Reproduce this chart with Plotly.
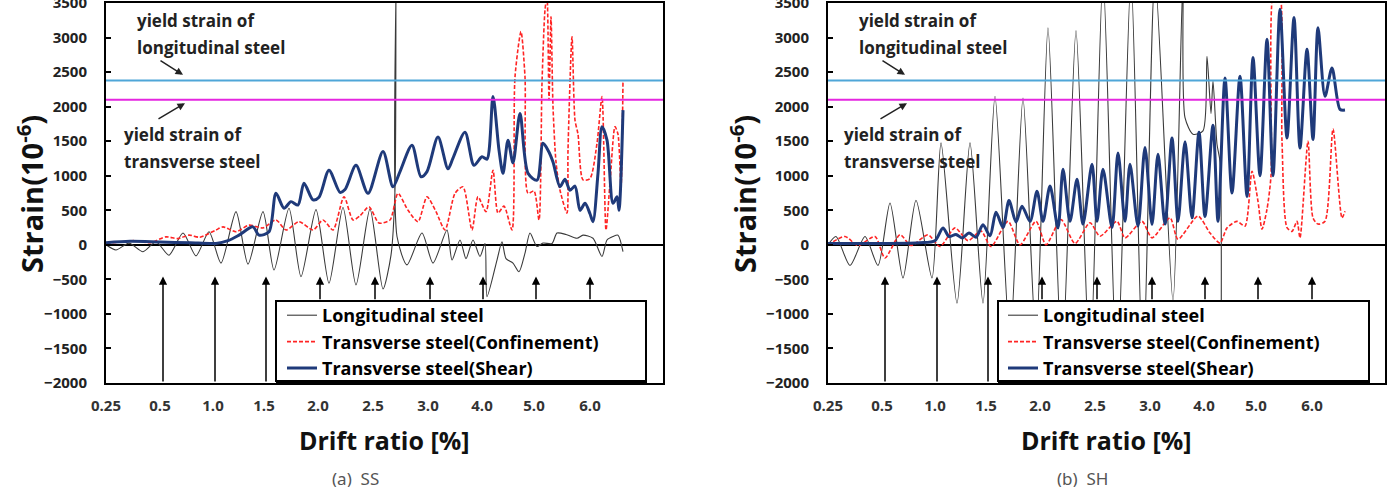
import plotly.graph_objects as go

# ---------------- data (x = loading step, y = strain in 1e-6) ----------------
tick_steps = [0, 54, 107, 158, 212, 267, 322, 376, 428, 484]
tick_labels = ["0.25", "0.5", "1.0", "1.5", "2.0", "2.5", "3.0", "4.0", "5.0", "6.0"]
arrow_steps = [57, 109, 160, 214, 269, 324, 377, 430, 484]

yield_long = 2380
yield_trans = 2100

# (a) SS
ss_long_x = [0, 10, 23, 37, 50, 63, 77, 90, 103, 115, 130, 142, 157, 168, 183, 195, 210, 223, 237, 250,
             264, 277, 285, 289, 290, 291, 301, 316, 327, 341, 346, 354, 360, 367, 374, 379, 381, 391,
             396, 400, 407, 413, 419, 424, 431, 437, 446, 451, 460, 471, 477, 487, 496, 501, 507, 512, 517]
ss_long_y = [0, -75, 25, -100, 45, -150, 170, -160, 190, -265, 480, -280, 480, -365, 530, -460, 510, -555,
             540, -580, 520, -640, -150, 800, 3700, 120, -290, 170, -265, 215, -220, 70, -200, 70, -170, 20,
             -750, -220, 45, -200, -265, -390, -120, 170, -25, 25, 20, 170, 150, 95, 140, 95, -170, 70, 120,
             140, -100]

ss_conf_x = [0, 14, 29, 44, 60, 72, 83, 94, 110, 117, 130, 143, 157, 170, 180, 193, 207, 217, 227, 238,
             247, 254, 263, 273, 284, 292, 302, 312, 321, 330, 339, 349, 357, 366, 372, 380, 387, 392, 398,
             406, 409, 415, 419, 422, 428, 433, 436, 439, 441, 443, 445, 447, 450, 454, 461, 462, 466, 469,
             472, 477, 484, 491, 496, 500, 504, 509, 512, 515, 517]
ss_conf_y = [20, 40, 60, 30, 115, 90, 140, 110, 215, 260, 190, 285, 245, 360, 215, 335, 215, 360, 215, 695,
             360, 420, 550, 315, 360, 745, 500, 335, 695, 480, 215, 745, 840, 215, 695, 480, 1080, 460, 560,
             215, 2430, 3085, 2430, 745, 780, 360, 2340, 3400, 3600, 2100, 3300, 2000, 1200, 790, 460, 1370,
             3010, 1805, 1600, 940, 960, 1470, 2145, 215, 900, 1710, 1600, 840, 2385]

ss_shear_x = [0, 24, 54, 84, 110, 122, 133, 147, 153, 163, 170, 178, 185, 192, 198, 207, 213, 223, 234,
              239, 250, 262, 277, 287, 294, 306, 315, 321, 332, 342, 347, 359, 368, 376, 381, 387, 393, 397,
              402, 407, 414, 422, 431, 437, 442, 447, 454, 459, 464, 469, 474, 479, 484, 487, 492, 496, 501,
              507, 511, 513, 517]
ss_shear_y = [30, 50, 40, 30, 20, 60, 140, 260, 140, 190, 745, 530, 625, 575, 890, 650, 690, 1080, 760, 800,
              1150, 745, 1350, 840, 1060, 1440, 985, 1060, 1560, 1100, 1255, 1630, 1150, 1275, 1240, 2145,
              1370, 1035, 1515, 1185, 1900, 1035, 935, 1470, 1370, 1200, 840, 950, 790, 850, 500, 600, 450,
              335, 1035, 1710, 1515, 600, 695, 500, 1950]

# (b) SH
sh_long_x = [0, 8, 22, 37, 50, 62, 75, 88, 104, 113, 129, 142, 155, 167, 182, 195, 208, 220, 234, 248, 262,
             275, 289, 303, 315, 327, 345, 355, 357, 365, 375, 379, 383, 385, 389, 392, 393]
sh_long_y = [0, 120, -300, 120, -300, 605, -480, 645, -480, 1475, -845, 1475, -845, 2150, -1400, 2125, -1400,
             3140, -1700, 3100, -1800, 3900, -1900, 3900, -1900, 3900, -820, 3900, 1840, 1600, 1650, 2730,
             1900, 2370, 1455, 1200, -2000]

sh_conf_x = [0, 17, 30, 47, 57, 72, 83, 100, 112, 127, 140, 153, 163, 180, 192, 208, 218, 233, 247, 262, 272,
             289, 297, 314, 324, 342, 350, 370, 382, 392, 399, 409, 417, 424, 430, 434, 439, 443, 446, 451,
             454, 459, 464, 469, 472, 480, 485, 490, 497, 505, 514, 517]
sh_conf_y = [0, 120, -10, 120, -190, 145, -10, 145, -25, 245, 60, 200, -25, 340, 0, 340, 0, 365, 20, 320, 125,
             340, 100, 340, 100, 390, 80, 415, 170, 25, 245, 340, 270, 1065, 630, 225, 515, 1000, 3700, 3700,
             1500, 250, 195, 340, 100, 1500, 390, 300, 340, 1675, 390, 485]

sh_shear_x = [0, 52, 92, 107, 115, 121, 128, 134, 141, 148, 155, 162, 168, 175, 181, 188, 194, 202, 209, 215,
              222, 230, 235, 242, 249, 255, 264, 269, 275, 284, 290, 297, 302, 310, 317, 324, 330, 337, 344,
              350, 357, 364, 371, 377, 385, 390, 397, 404, 412, 419, 425, 432, 439, 445, 452, 459, 466, 472,
              479, 485, 490, 497, 504, 512, 517]
sh_shear_y = [20, 20, 30, 60, 245, 120, 150, 100, 170, 110, 290, 130, 470, 250, 640, 330, 560, 340, 775, 340,
              850, 245, 1095, 340, 950, 300, 1165, 340, 1095, 250, 1330, 340, 1165, 270, 1410, 295, 1310, 300,
              1545, 340, 1490, 390, 1630, 410, 1730, 340, 2415, 750, 2440, 700, 2710, 1000, 2975, 1000, 3410,
              1545, 3290, 1400, 2830, 1525, 3140, 2150, 2560, 1960, 1950]

# ---------------- styling ----------------
FONT = "Open Sans"
C_LONG = "#3a3a3a"
C_CONF = "#ff2424"
C_SHEAR = "#1f3a7a"
C_YL = "#4fa6d8"
C_YT = "#e526e0"
W, H = 1390, 487


def px(x):
    return x / W


def py(y):
    return 1 - y / H


fig = go.Figure()

panels = [
    dict(xa="x", ya="y", leg="legend", long=(ss_long_x, ss_long_y), conf=(ss_conf_x, ss_conf_y),
         shear=(ss_shear_x, ss_shear_y)),
    dict(xa="x2", ya="y2", leg="legend2", long=(sh_long_x, sh_long_y), conf=(sh_conf_x, sh_conf_y),
         shear=(sh_shear_x, sh_shear_y)),
]

for p in panels:
    fig.add_trace(go.Scatter(x=p["long"][0], y=p["long"][1], mode="lines", name="Longitudinal steel",
                             line=dict(color=C_LONG, width=1.1, shape="spline", smoothing=0.7),
                             xaxis=p["xa"], yaxis=p["ya"], legend=p["leg"]))
    fig.add_trace(go.Scatter(x=p["conf"][0], y=p["conf"][1], mode="lines",
                             name="Transverse steel(Confinement)",
                             line=dict(color=C_CONF, width=1.6, dash="4px,2px", shape="spline",
                                       smoothing=0.7),
                             xaxis=p["xa"], yaxis=p["ya"], legend=p["leg"]))
    fig.add_trace(go.Scatter(x=p["shear"][0], y=p["shear"][1], mode="lines", name="Transverse steel(Shear)",
                             line=dict(color=C_SHEAR, width=3, shape="spline", smoothing=0.8),
                             xaxis=p["xa"], yaxis=p["ya"], legend=p["leg"]))

xdoms = [[106 / W, 663 / W], [828 / W, 1385 / W]]
ydom = [1 - 383 / H, 1 - 3 / H]

axis_common = dict(showline=True, mirror=True, linecolor="black", linewidth=2, showgrid=False,
                   automargin=False, ticklabeloverflow="allow")
layout = dict(template="none", width=W, height=H, margin=dict(l=0, r=0, t=0, b=0, pad=0),
              paper_bgcolor="white", plot_bgcolor="white", showlegend=True)
for i, suffix in enumerate(["", "2"]):
    layout["xaxis" + suffix] = dict(domain=xdoms[i], range=[0, 557], tickmode="array", tickvals=tick_steps,
                                    ticktext=tick_labels, ticks="", zeroline=False,
                                    anchor="y" + suffix, ticklabelstandoff=8,
                                    tickfont=dict(family=FONT, size=15, color="#333", weight="bold"),
                                    **axis_common)
    layout["yaxis" + suffix] = dict(domain=ydom, range=[-2000, 3500], tickmode="array",
                                    tickvals=list(range(-2000, 3501, 500)), ticks="inside", ticklen=5,
                                    tickwidth=1.5, tickcolor="black", zeroline=True, zerolinecolor="black",
                                    zerolinewidth=2, anchor="x" + suffix, ticklabelstandoff=14,
                                    tickfont=dict(family=FONT, size=15, color="#222", weight="bold"),
                                    **axis_common)
fig.update_layout(**layout)

# legend boxes (frame drawn as shapes so its size matches the original figure)
leg_common = dict(bgcolor="rgba(0,0,0,0)", borderwidth=0, xanchor="left", yanchor="top",
                  font=dict(family=FONT, size=18, color="black", weight="bold"), tracegroupgap=0,
                  itemwidth=30)
fig.update_layout(legend=dict(x=px(282), y=py(297), **leg_common),
                  legend2=dict(x=px(1003), y=py(297), **leg_common))
for x0, x1 in [(276, 646), (998, 1369)]:
    fig.add_shape(type="rect", xref="paper", yref="paper", x0=px(x0), x1=px(x1), y0=py(381), y1=py(301),
                  fillcolor="white", line=dict(color="black", width=2), layer="above")
    fig.add_shape(type="line", xref="paper", yref="paper", x0=px(x0), x1=px(x1 + 1), y0=py(382.5),
                  y1=py(382.5), line=dict(color="black", width=3), layer="above")

# yield lines
for suffix in ["", "2"]:
    for val, col in [(yield_long, C_YL), (yield_trans, C_YT)]:
        fig.add_shape(type="line", xref=("x" + suffix) + " domain", yref="y" + suffix, x0=0, x1=1,
                      y0=val, y1=val, line=dict(color=col, width=2))

ann = []
# drift level arrows
for suffix in ["", "2"]:
    for k, s in enumerate(arrow_steps):
        base = -2000 if k < 3 else -810
        ann.append(dict(x=s, y=-460, ax=s, ay=base, xref="x" + suffix, yref="y" + suffix,
                        axref="x" + suffix, ayref="y" + suffix, text="", showarrow=True, arrowhead=2,
                        arrowsize=1.1, arrowwidth=1.5, arrowcolor="black"))

# yield annotations
tfont = dict(family=FONT, size=17, color="#222", weight="bold")
for suffix, (lx, tx) in [("", (29, 16)), ("2", (29, 14))]:
    xr, yr = "x" + suffix, "y" + suffix
    ann.append(dict(x=lx, y=3250, xref=xr, yref=yr, text="yield strain of", showarrow=False,
                    xanchor="left", yanchor="middle", font=tfont))
    ann.append(dict(x=lx, y=2860, xref=xr, yref=yr, text="longitudinal steel", showarrow=False,
                    xanchor="left", yanchor="middle", font=tfont))
    ann.append(dict(x=tx, y=1590, xref=xr, yref=yr, text="yield strain of", showarrow=False,
                    xanchor="left", yanchor="middle", font=tfont))
    ann.append(dict(x=tx, y=1200, xref=xr, yref=yr, text="transverse steel", showarrow=False,
                    xanchor="left", yanchor="middle", font=tfont))
    ann.append(dict(x=lx + 48, y=2460, ax=lx + 24, ay=2680, xref=xr, yref=yr, axref=xr, ayref=yr, text="",
                    showarrow=True, arrowhead=2, arrowsize=1, arrowwidth=1.5, arrowcolor="#222"))
    ann.append(dict(x=lx + 50, y=2050, ax=lx + 22, ay=1810, xref=xr, yref=yr, axref=xr, ayref=yr, text="",
                    showarrow=True, arrowhead=2, arrowsize=1, arrowwidth=1.5, arrowcolor="#222"))

# axis titles and captions
xt = dict(family=FONT, size=25, color="#111", weight="bold")
yt = dict(family=FONT, size=29, color="#111", weight="bold")
for cx, ycx in [(384, 30), (1106, 743)]:
    ann.append(dict(x=px(cx), y=py(440), xref="paper", yref="paper", text="Drift ratio [%]", showarrow=False,
                    xanchor="center", yanchor="middle", font=xt))
    ann.append(dict(x=px(ycx), y=py(194), xref="paper", yref="paper", text="Strain(10<sup>-6</sup>)",
                    showarrow=False, textangle=-90, xanchor="center", yanchor="middle", font=yt))
for cx, cap in [(355, "(a)  SS"), (1082, "(b)  SH")]:
    ann.append(dict(x=px(cx), y=py(478), xref="paper", yref="paper", text=cap, showarrow=False,
                    xanchor="center", yanchor="middle",
                    font=dict(family="Noto Sans", size=17, color="#555")))

fig.update_layout(annotations=ann)
fig.write_html("out.html")
